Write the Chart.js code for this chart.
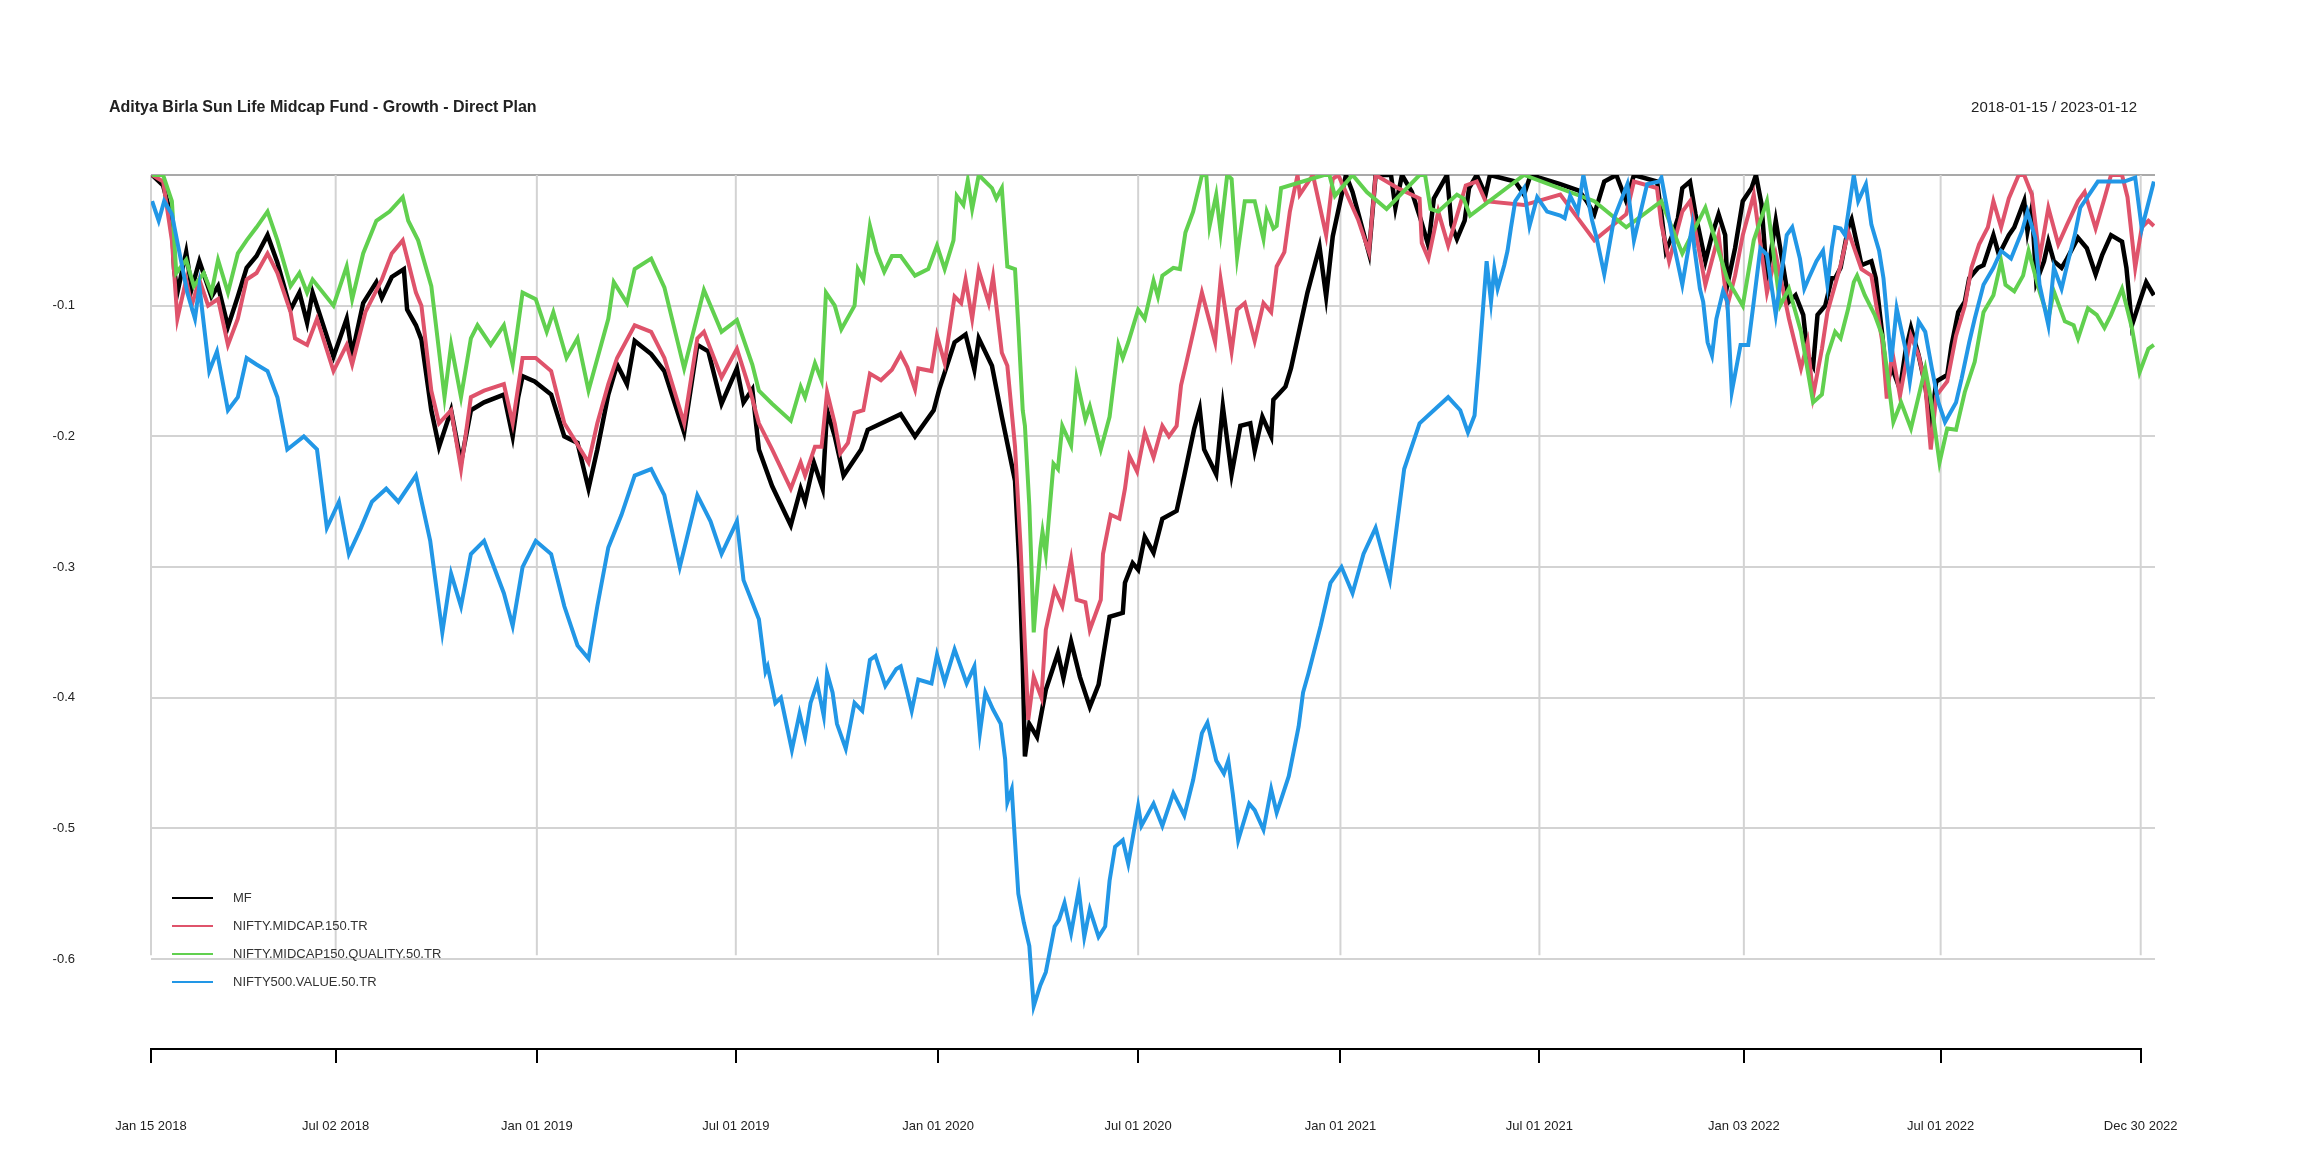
<!DOCTYPE html>
<html>
<head>
<meta charset="utf-8">
<script src="https://cdn.jsdelivr.net/npm/chart.js@4.4.1/dist/chart.umd.min.js"></script>
<style>
  html, body { margin: 0; padding: 0; background: #fff; }
  #wrap { width: 2304px; height: 1152px; position: relative; }
</style>
</head>
<body>
<div id="wrap"><canvas id="chart" width="2304" height="1152"></canvas></div>
<script>
// Drawdowns, x = days since 2018-01-15
const titleText = 'Aditya Birla Sun Life Midcap Fund - Growth - Direct Plan';
const rangeText = '2018-01-15 / 2023-01-12';
const seriesNames = ['MF', 'NIFTY.MIDCAP.150.TR', 'NIFTY.MIDCAP150.QUALITY.50.TR', 'NIFTY500.VALUE.50.TR'];
const seriesColors = ['#000000', '#DF536B', '#61D04F', '#2297E6'];

const tickDays = [0, 168, 351, 532, 716, 898, 1082, 1263, 1449, 1628, 1810];
const tickLabels = ['Jan 15 2018', 'Jul 02 2018', 'Jan 01 2019', 'Jul 01 2019', 'Jan 01 2020', 'Jul 01 2020',
  'Jan 01 2021', 'Jul 01 2021', 'Jan 03 2022', 'Jul 01 2022', 'Dec 30 2022'];
const yTicks = [0, -0.1, -0.2, -0.3, -0.4, -0.5, -0.6];

const mfDays = [1,11,19,21,24,32,37,44,55,61,70,79,87,96,106,115,127,135,142,147,166,178,183,193,205,210,219,230,233,241,246,255,262,273,282,291,303,321,329,334,338,349,364,376,388,398,406,416,424,433,440,455,467,485,497,507,519,533,539,547,553,565,582,591,595,603,611,615,622,630,646,652,682,695,712,717,731,741,749,753,765,774,786,790,793,795,799,806,814,825,830,837,845,854,862,872,884,886,893,898,904,912,920,933,940,949,954,958,969,975,983,991,1000,1004,1011,1019,1021,1032,1037,1045,1052,1063,1069,1075,1087,1093,1108,1114,1128,1132,1138,1147,1155,1162,1167,1179,1183,1188,1195,1199,1206,1214,1218,1241,1249,1255,1282,1299,1306,1313,1322,1333,1342,1349,1370,1374,1378,1384,1389,1393,1400,1405,1414,1420,1426,1432,1434,1441,1448,1456,1460,1465,1470,1478,1484,1490,1496,1503,1507,1512,1516,1523,1529,1532,1537,1544,1547,1552,1556,1565,1569,1575,1579,1584,1591,1596,1601,1608,1614,1619,1624,1634,1638,1644,1650,1654,1662,1667,1676,1681,1690,1695,1704,1707,1711,1715,1722,1726,1731,1738,1743,1753,1761,1769,1775,1783,1793,1797,1802,1809,1815,1822];
const mfValues = [0,-0.008,-0.034,-0.072,-0.09,-0.059,-0.087,-0.066,-0.093,-0.085,-0.116,-0.093,-0.071,-0.062,-0.046,-0.067,-0.103,-0.09,-0.113,-0.09,-0.139,-0.11,-0.137,-0.098,-0.082,-0.094,-0.078,-0.072,-0.103,-0.115,-0.126,-0.18,-0.208,-0.18,-0.22,-0.18,-0.174,-0.168,-0.2,-0.17,-0.154,-0.158,-0.168,-0.2,-0.205,-0.24,-0.21,-0.168,-0.145,-0.16,-0.127,-0.137,-0.15,-0.197,-0.13,-0.135,-0.175,-0.148,-0.174,-0.164,-0.21,-0.238,-0.268,-0.24,-0.25,-0.22,-0.24,-0.18,-0.2,-0.23,-0.21,-0.195,-0.183,-0.2,-0.18,-0.164,-0.128,-0.122,-0.149,-0.125,-0.146,-0.185,-0.234,-0.3,-0.374,-0.445,-0.42,-0.43,-0.394,-0.366,-0.385,-0.357,-0.384,-0.407,-0.39,-0.338,-0.335,-0.312,-0.297,-0.302,-0.277,-0.289,-0.263,-0.257,-0.23,-0.194,-0.179,-0.21,-0.229,-0.177,-0.229,-0.192,-0.19,-0.211,-0.185,-0.2,-0.172,-0.162,-0.148,-0.117,-0.09,-0.055,-0.093,-0.047,0,-0.013,-0.06,0,0,-0.025,0,-0.013,-0.034,-0.054,-0.018,0,-0.038,-0.049,-0.035,-0.01,0,-0.015,0,-0.005,-0.015,0,-0.007,-0.012,-0.02,-0.03,-0.005,0,-0.02,0,-0.005,-0.03,-0.058,-0.046,-0.033,-0.01,-0.005,-0.03,-0.066,-0.046,-0.03,-0.046,-0.084,-0.056,-0.02,-0.01,0,-0.022,-0.079,-0.035,-0.066,-0.097,-0.092,-0.107,-0.138,-0.146,-0.107,-0.1,-0.079,-0.079,-0.071,-0.04,-0.034,-0.053,-0.069,-0.066,-0.079,-0.123,-0.158,-0.148,-0.164,-0.135,-0.117,-0.138,-0.161,-0.193,-0.158,-0.153,-0.13,-0.105,-0.097,-0.079,-0.071,-0.069,-0.046,-0.061,-0.046,-0.04,-0.02,-0.043,-0.025,-0.082,-0.066,-0.051,-0.066,-0.071,-0.064,-0.048,-0.056,-0.076,-0.061,-0.046,-0.051,-0.071,-0.115,-0.097,-0.082,-0.092];

const midDays = [1,11,19,24,32,37,44,52,61,70,79,87,96,106,115,127,131,142,151,166,178,183,195,210,219,229,235,241,246,255,262,273,282,291,303,321,329,338,350,364,376,398,406,416,424,440,455,467,485,497,503,519,533,545,553,565,582,591,595,604,610,615,622,627,634,640,648,654,664,674,682,688,695,698,710,715,722,731,737,741,747,753,762,766,774,779,786,791,798,803,810,814,822,829,837,842,850,854,864,866,873,881,886,890,897,904,912,920,926,933,937,942,949,956,968,973,983,988,995,1004,1012,1019,1024,1031,1036,1043,1045,1057,1069,1075,1080,1098,1108,1114,1134,1154,1156,1162,1171,1180,1196,1206,1214,1249,1282,1313,1342,1349,1370,1374,1381,1393,1400,1414,1426,1434,1441,1448,1458,1470,1478,1490,1501,1507,1512,1520,1525,1537,1544,1556,1565,1575,1579,1584,1591,1601,1608,1614,1619,1624,1634,1642,1650,1656,1663,1671,1676,1683,1690,1699,1704,1711,1718,1726,1735,1743,1753,1759,1769,1777,1783,1793,1798,1805,1811,1817,1822];
const midValues = [0,-0.005,-0.05,-0.11,-0.08,-0.1,-0.08,-0.1,-0.095,-0.13,-0.11,-0.08,-0.075,-0.06,-0.075,-0.105,-0.125,-0.13,-0.11,-0.15,-0.13,-0.145,-0.105,-0.08,-0.06,-0.05,-0.07,-0.09,-0.1,-0.165,-0.19,-0.18,-0.225,-0.17,-0.165,-0.16,-0.19,-0.14,-0.14,-0.15,-0.19,-0.22,-0.19,-0.16,-0.14,-0.115,-0.12,-0.14,-0.19,-0.125,-0.12,-0.155,-0.133,-0.165,-0.19,-0.21,-0.24,-0.22,-0.23,-0.208,-0.208,-0.166,-0.19,-0.213,-0.205,-0.182,-0.18,-0.152,-0.157,-0.149,-0.137,-0.147,-0.164,-0.148,-0.15,-0.123,-0.144,-0.093,-0.098,-0.08,-0.11,-0.073,-0.098,-0.078,-0.136,-0.146,-0.208,-0.284,-0.417,-0.384,-0.4,-0.348,-0.317,-0.33,-0.294,-0.325,-0.327,-0.348,-0.325,-0.29,-0.26,-0.263,-0.24,-0.215,-0.227,-0.197,-0.216,-0.192,-0.2,-0.192,-0.161,-0.143,-0.117,-0.09,-0.128,-0.08,-0.135,-0.103,-0.098,-0.127,-0.098,-0.105,-0.07,-0.059,-0.028,0,-0.015,0,-0.046,-0.003,0,-0.034,-0.059,0,-0.01,-0.018,-0.052,-0.064,-0.028,-0.054,-0.008,-0.005,-0.02,-0.023,-0.015,-0.05,-0.03,-0.005,-0.01,-0.038,-0.066,-0.028,-0.02,-0.084,-0.046,-0.1,-0.077,-0.046,-0.015,-0.09,-0.061,-0.11,-0.148,-0.128,-0.169,-0.133,-0.105,-0.069,-0.043,-0.072,-0.077,-0.128,-0.171,-0.135,-0.169,-0.123,-0.138,-0.161,-0.21,-0.169,-0.158,-0.123,-0.1,-0.071,-0.053,-0.04,-0.02,-0.04,-0.018,0,0,-0.015,-0.064,-0.025,-0.053,-0.038,-0.02,-0.013,-0.041,-0.018,0,0,-0.017,-0.071,-0.04,-0.035,-0.039];

const qualDays = [1,11,19,23,32,39,48,55,61,70,79,87,96,106,115,127,135,142,147,166,178,183,193,205,217,229,234,243,255,267,273,282,291,297,309,321,329,338,350,360,366,378,388,398,416,421,433,440,455,467,485,503,519,533,547,553,565,582,591,595,604,610,614,622,628,640,643,648,654,660,667,674,682,695,707,715,722,730,733,739,743,747,753,765,769,774,779,786,789,793,795,799,803,809,811,814,821,825,829,837,842,850,854,864,872,880,884,889,893,898,904,912,916,920,930,936,941,948,956,960,963,969,973,979,983,988,995,1004,1012,1015,1021,1024,1028,1067,1072,1077,1093,1106,1124,1154,1159,1164,1171,1188,1194,1200,1249,1313,1342,1374,1381,1393,1414,1434,1448,1458,1470,1482,1490,1501,1512,1520,1525,1532,1537,1544,1549,1552,1559,1568,1575,1579,1585,1592,1601,1614,1619,1627,1634,1642,1650,1659,1667,1676,1683,1687,1695,1703,1708,1718,1726,1731,1741,1749,1753,1762,1770,1777,1783,1793,1797,1802,1809,1817,1822];
const qualValues = [0,0,-0.02,-0.075,-0.065,-0.085,-0.075,-0.09,-0.065,-0.09,-0.06,-0.05,-0.04,-0.028,-0.05,-0.085,-0.075,-0.09,-0.08,-0.1,-0.07,-0.095,-0.06,-0.035,-0.028,-0.017,-0.035,-0.05,-0.085,-0.17,-0.13,-0.17,-0.125,-0.115,-0.13,-0.115,-0.145,-0.09,-0.095,-0.12,-0.105,-0.14,-0.125,-0.165,-0.11,-0.082,-0.098,-0.072,-0.064,-0.086,-0.148,-0.088,-0.12,-0.111,-0.145,-0.165,-0.175,-0.188,-0.162,-0.17,-0.144,-0.157,-0.09,-0.1,-0.118,-0.1,-0.072,-0.08,-0.039,-0.059,-0.074,-0.062,-0.062,-0.077,-0.072,-0.054,-0.072,-0.05,-0.016,-0.023,-0.004,-0.026,0,-0.01,-0.018,-0.01,-0.07,-0.072,-0.116,-0.18,-0.192,-0.253,-0.35,-0.286,-0.273,-0.29,-0.221,-0.225,-0.192,-0.207,-0.156,-0.187,-0.177,-0.21,-0.185,-0.13,-0.14,-0.128,-0.117,-0.103,-0.11,-0.081,-0.093,-0.077,-0.071,-0.072,-0.044,-0.028,0,0,-0.039,-0.015,-0.044,0,-0.003,-0.063,-0.02,-0.02,-0.049,-0.028,-0.041,-0.039,-0.01,0,0,-0.016,0,-0.013,-0.026,0,0,-0.026,-0.028,-0.015,-0.018,-0.031,0,-0.02,-0.04,-0.02,-0.035,-0.06,-0.025,-0.08,-0.1,-0.05,-0.02,-0.1,-0.087,-0.12,-0.174,-0.168,-0.138,-0.12,-0.125,-0.102,-0.082,-0.077,-0.092,-0.107,-0.123,-0.148,-0.189,-0.174,-0.194,-0.148,-0.171,-0.22,-0.194,-0.195,-0.166,-0.143,-0.105,-0.092,-0.066,-0.084,-0.089,-0.077,-0.058,-0.089,-0.11,-0.089,-0.112,-0.115,-0.125,-0.102,-0.107,-0.117,-0.107,-0.087,-0.1,-0.117,-0.151,-0.133,-0.13,-0.135];

const valDays = [1,7,12,19,33,40,44,53,60,70,79,87,96,106,115,124,139,151,160,171,180,191,201,214,225,241,254,265,273,282,291,303,321,329,338,350,364,376,388,398,406,416,428,440,455,467,481,497,509,519,533,539,553,559,561,568,573,583,590,595,600,606,612,615,620,624,632,640,647,654,659,668,678,682,688,692,698,710,715,722,731,742,749,754,759,766,773,777,779,783,787,789,794,799,803,809,814,822,826,831,837,844,849,854,862,868,872,877,884,889,898,901,912,920,930,940,948,956,961,969,976,980,984,989,999,1004,1012,1019,1024,1028,1035,1044,1048,1053,1064,1073,1083,1093,1103,1114,1127,1140,1154,1167,1180,1191,1198,1204,1208,1211,1215,1219,1222,1225,1231,1234,1237,1241,1249,1254,1261,1270,1282,1286,1291,1298,1303,1311,1315,1322,1331,1343,1349,1361,1372,1374,1384,1393,1402,1404,1409,1412,1416,1420,1424,1430,1434,1438,1446,1453,1458,1464,1470,1478,1488,1493,1500,1504,1508,1515,1521,1525,1529,1532,1537,1541,1549,1553,1560,1565,1572,1576,1583,1588,1596,1600,1608,1614,1620,1626,1632,1642,1647,1654,1659,1667,1676,1683,1692,1702,1707,1714,1718,1726,1731,1738,1743,1750,1755,1771,1795,1805,1811,1822];
const valValues = [-0.02,-0.035,-0.02,-0.03,-0.09,-0.11,-0.085,-0.15,-0.135,-0.18,-0.17,-0.14,-0.145,-0.15,-0.17,-0.21,-0.2,-0.21,-0.27,-0.25,-0.29,-0.27,-0.25,-0.24,-0.25,-0.23,-0.28,-0.35,-0.305,-0.33,-0.29,-0.28,-0.32,-0.345,-0.3,-0.28,-0.29,-0.33,-0.36,-0.37,-0.33,-0.285,-0.26,-0.23,-0.225,-0.245,-0.3,-0.245,-0.265,-0.29,-0.265,-0.31,-0.34,-0.38,-0.376,-0.404,-0.4,-0.44,-0.412,-0.43,-0.404,-0.389,-0.414,-0.381,-0.396,-0.42,-0.439,-0.404,-0.41,-0.371,-0.368,-0.391,-0.378,-0.376,-0.396,-0.41,-0.386,-0.389,-0.367,-0.388,-0.363,-0.389,-0.376,-0.427,-0.396,-0.409,-0.42,-0.447,-0.48,-0.47,-0.524,-0.55,-0.572,-0.59,-0.636,-0.62,-0.61,-0.575,-0.57,-0.557,-0.58,-0.547,-0.583,-0.562,-0.583,-0.575,-0.54,-0.514,-0.509,-0.527,-0.483,-0.498,-0.481,-0.498,-0.473,-0.49,-0.463,-0.427,-0.419,-0.448,-0.458,-0.448,-0.473,-0.509,-0.481,-0.486,-0.501,-0.47,-0.488,-0.478,-0.46,-0.422,-0.396,-0.381,-0.345,-0.312,-0.3,-0.32,-0.29,-0.27,-0.31,-0.225,-0.19,-0.18,-0.17,-0.18,-0.197,-0.184,-0.143,-0.11,-0.066,-0.097,-0.072,-0.087,-0.069,-0.058,-0.041,-0.02,-0.01,-0.039,-0.017,-0.028,-0.031,-0.033,-0.016,-0.028,0,-0.035,-0.048,-0.076,-0.033,-0.007,-0.05,-0.007,-0.005,-0.002,-0.048,-0.084,-0.039,-0.056,-0.087,-0.097,-0.128,-0.138,-0.11,-0.089,-0.097,-0.166,-0.13,-0.13,-0.097,-0.056,-0.061,-0.107,-0.046,-0.04,-0.064,-0.087,-0.079,-0.066,-0.058,-0.084,-0.056,-0.04,-0.041,-0.046,0,-0.02,-0.007,-0.038,-0.058,-0.079,-0.143,-0.102,-0.133,-0.158,-0.112,-0.12,-0.148,-0.174,-0.189,-0.174,-0.156,-0.128,-0.11,-0.084,-0.071,-0.058,-0.064,-0.043,-0.028,-0.048,-0.084,-0.115,-0.071,-0.087,-0.069,-0.046,-0.025,-0.005,-0.005,-0.002,-0.041,-0.005,-0.005];

const allDays = [mfDays, midDays, qualDays, valDays];
const allValues = [mfValues, midValues, qualValues, valValues];

function toPoints(days, values) {
  const n = Math.min(days.length, values.length);
  const pts = [];
  for (let i = 0; i < n; i++) pts.push({ x: days[i], y: values[i] });
  return pts;
}

const FONT = '"Liberation Sans", Arial, sans-serif';
const Y_GRID_BOTTOM = -0.6;

// titles, vertical grid lines, axis line and legend in the R style
const decorations = {
  id: 'decorations',
  beforeDatasetsDraw(chart) {
    const { ctx } = chart;
    const xs = chart.scales.x, ys = chart.scales.y;
    ctx.save();
    ctx.strokeStyle = '#d3d3d3';
    ctx.lineWidth = 2;
    tickDays.forEach(d => {
      const px = xs.getPixelForValue(d);
      ctx.beginPath();
      ctx.moveTo(px, ys.getPixelForValue(0));
      ctx.lineTo(px, ys.getPixelForValue(Y_GRID_BOTTOM) - 4);
      ctx.stroke();
    });
    ctx.restore();
  },
  afterDraw(chart) {
    const { ctx } = chart;
    const xs = chart.scales.x;
    ctx.save();
    // x axis line from first to last tick
    const yAxis = xs.top + 1;
    ctx.strokeStyle = '#000';
    ctx.lineWidth = 2;
    ctx.beginPath();
    ctx.moveTo(xs.getPixelForValue(tickDays[0]), yAxis);
    ctx.lineTo(xs.getPixelForValue(tickDays[tickDays.length - 1]), yAxis);
    ctx.stroke();

    ctx.fillStyle = '#222';
    ctx.textBaseline = 'middle';
    ctx.font = 'bold 16px ' + FONT;
    ctx.textAlign = 'left';
    ctx.fillText(titleText, 109, 108);
    ctx.font = '15px ' + FONT;
    ctx.textAlign = 'right';
    ctx.fillText(rangeText, 2137, 108);

    // legend
    ctx.font = '13px ' + FONT;
    ctx.textAlign = 'left';
    seriesNames.forEach((name, i) => {
      const y = 898 + i * 28;
      ctx.strokeStyle = seriesColors[i];
      ctx.lineWidth = 2;
      ctx.beginPath();
      ctx.moveTo(172, y);
      ctx.lineTo(213, y);
      ctx.stroke();
      ctx.fillStyle = '#333';
      ctx.fillText(name, 233, y);
    });
    ctx.restore();
  }
};

new Chart(document.getElementById('chart'), {
  type: 'line',
  data: {
    datasets: seriesNames.map((name, i) => ({
      label: name,
      data: toPoints(allDays[i], allValues[i]),
      borderColor: seriesColors[i],
      borderWidth: i === 0 ? 4.5 : 4,
      pointRadius: 0,
      tension: 0,
      fill: false
    })).reverse()
  },
  options: {
    responsive: false,
    animation: false,
    layout: { padding: { left: 0, right: 149, top: 175, bottom: 0 } },
    plugins: { legend: { display: false }, title: { display: false }, tooltip: { enabled: false } },
    scales: {
      x: {
        type: 'linear',
        min: 0,
        max: 1823,
        afterBuildTicks: axis => { axis.ticks = tickDays.map(v => ({ value: v })); },
        afterFit: axis => { axis.height = 104; },
        grid: { drawOnChartArea: false, drawTicks: true, tickLength: 15, color: '#000', lineWidth: 2 },
        border: { display: false },
        ticks: {
          autoSkip: false,
          maxRotation: 0,
          padding: 56,
          color: '#222',
          font: { family: FONT, size: 13 },
          callback: v => tickLabels[tickDays.indexOf(v)] || ''
        }
      },
      y: {
        min: -0.668,
        max: 0,
        afterBuildTicks: axis => { axis.ticks = yTicks.map(v => ({ value: v })); },
        afterFit: axis => { axis.width = 151; },
        grid: {
          drawTicks: false,
          color: ctx => (ctx.tick && ctx.tick.value === 0 ? '#a9a9a9' : '#d3d3d3'),
          lineWidth: 2
        },
        border: { display: false },
        ticks: {
          padding: 76,
          color: '#222',
          font: { family: FONT, size: 13 },
          callback: v => (v === 0 ? '' : v.toFixed(1))
        }
      }
    }
  },
  plugins: [decorations]
});
</script>
</body>
</html>
